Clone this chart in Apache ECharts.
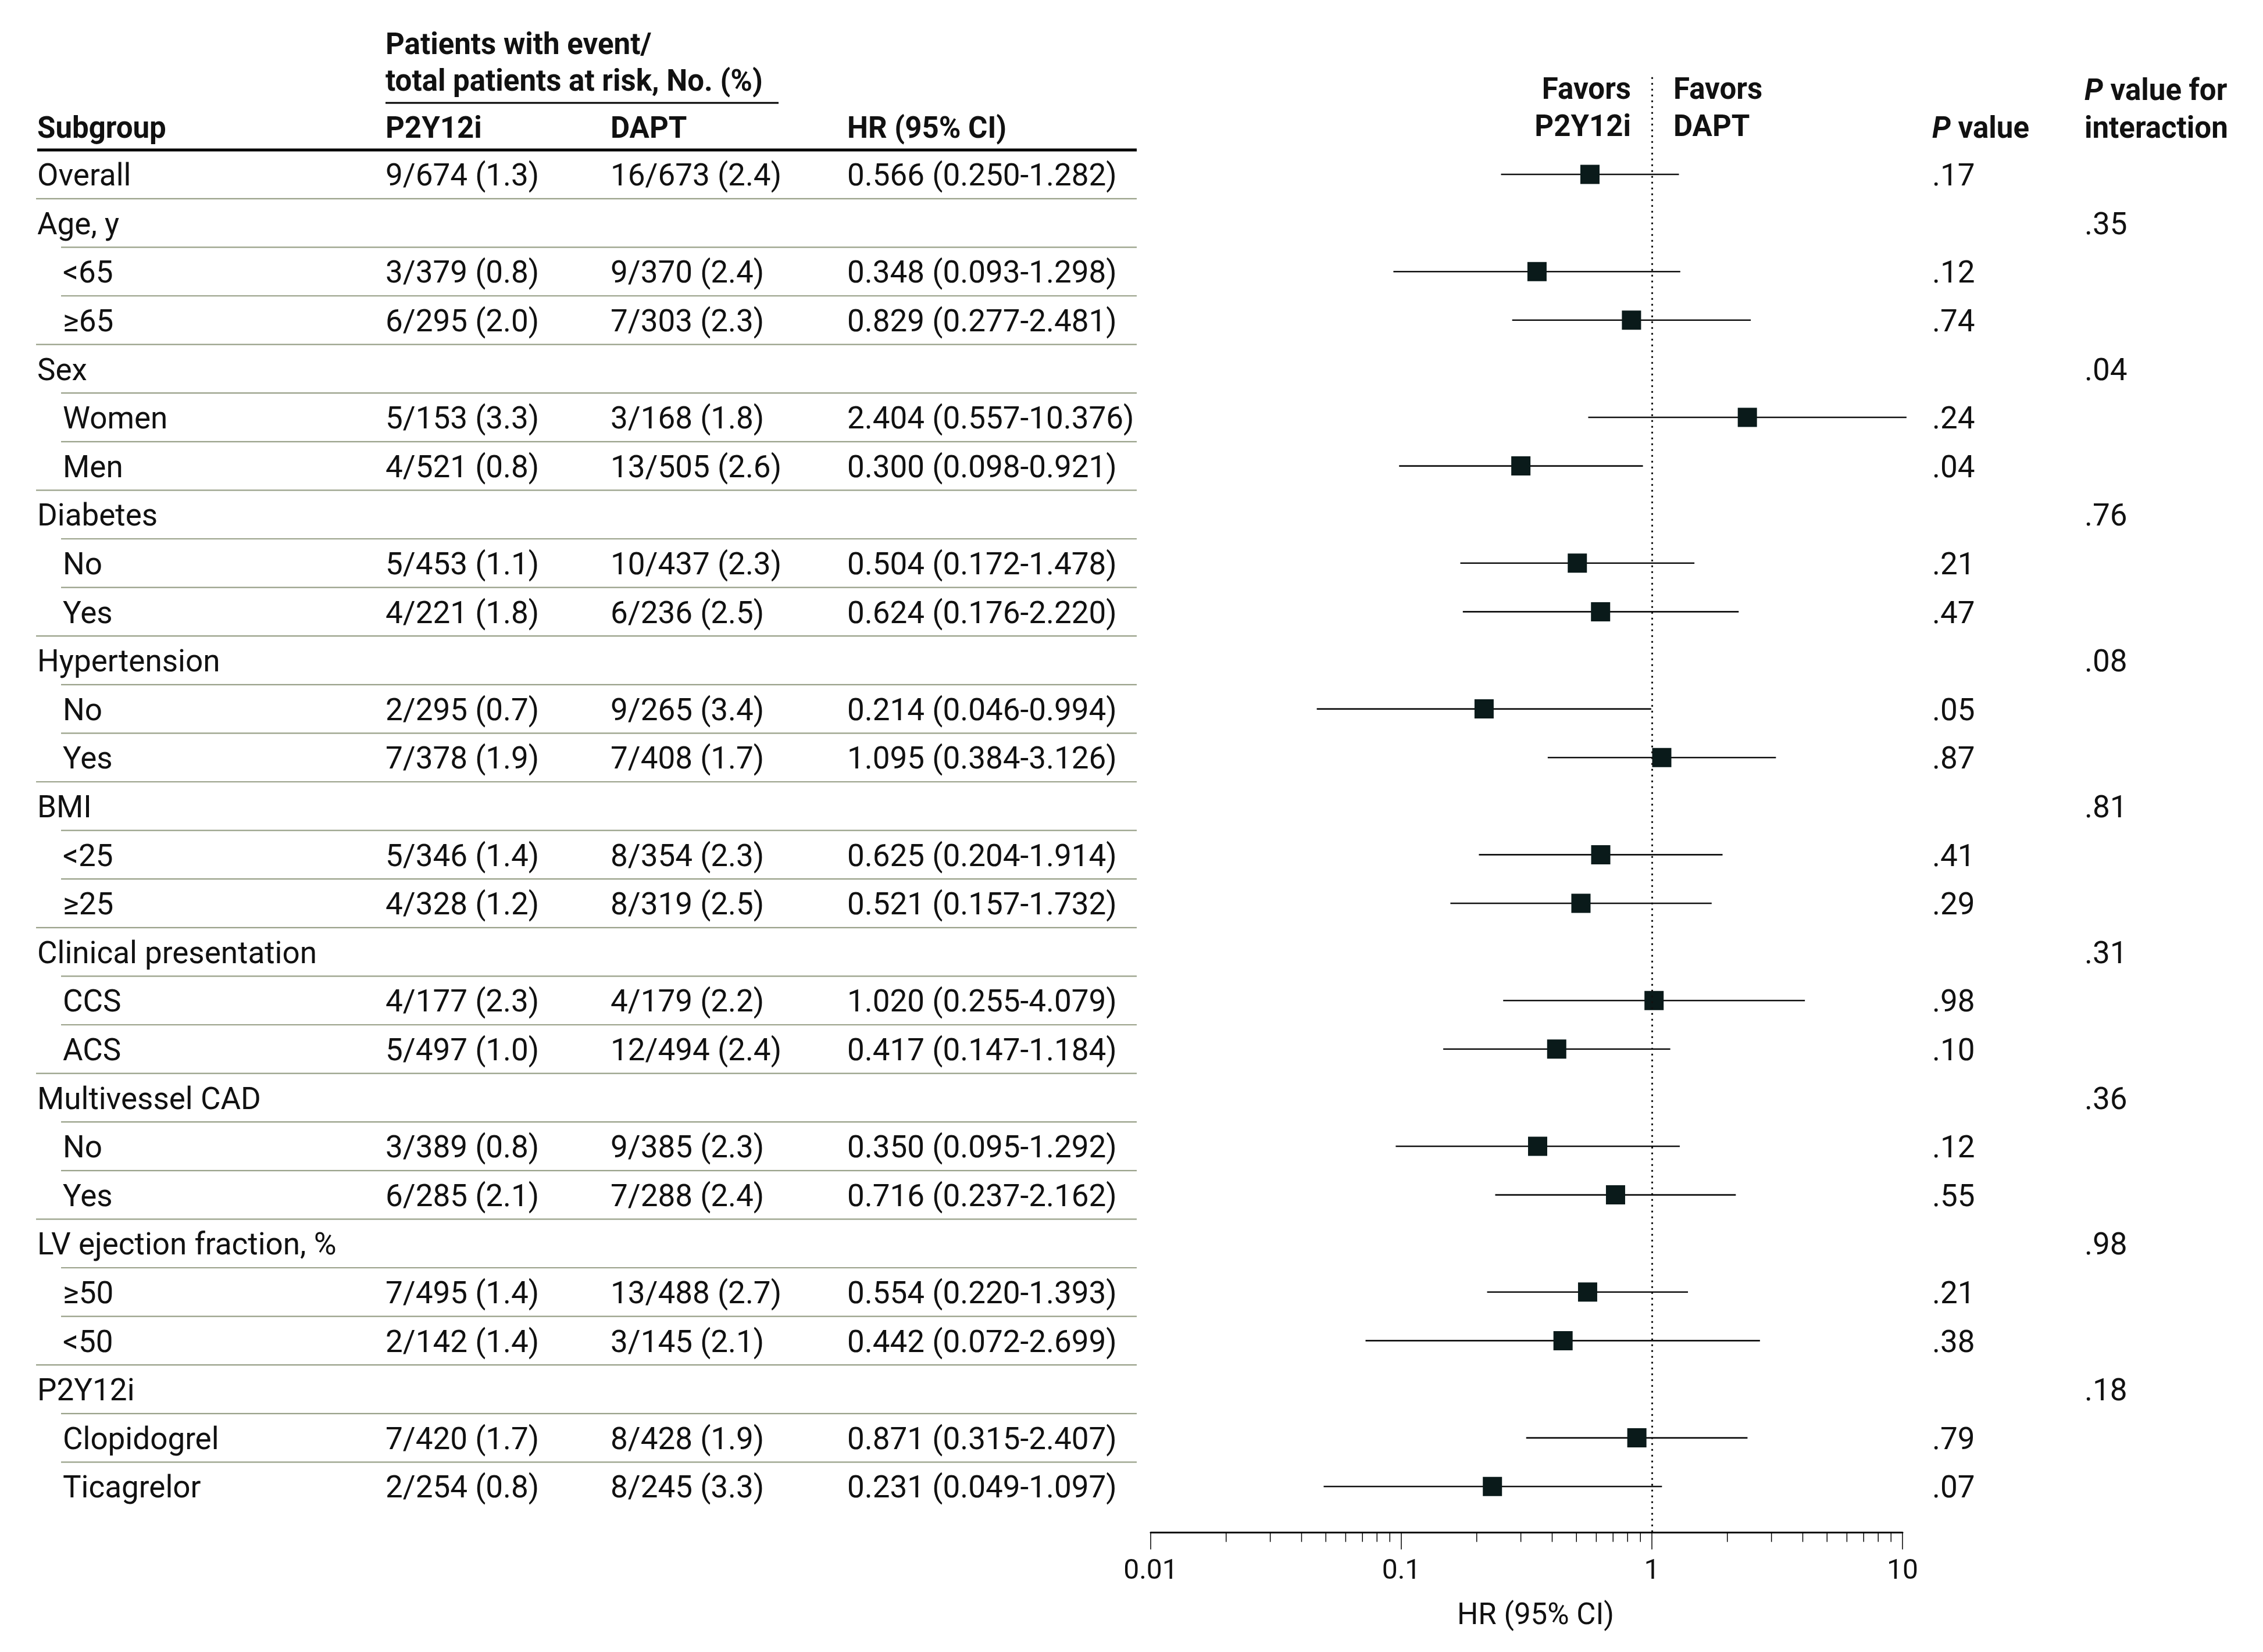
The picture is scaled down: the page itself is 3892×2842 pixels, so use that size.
<!DOCTYPE html>
<html><head><meta charset="utf-8">
<script src="https://cdn.jsdelivr.net/npm/echarts@6/dist/echarts.min.js"></script>
<style>html,body{margin:0;padding:0;background:#fff}#c{width:3892px;height:2842px}</style>
</head><body><div id="c"></div>
<script>
const subgroups = ['Overall','Age, y','<65','≥65','Sex','Women','Men','Diabetes','No','Yes','Hypertension','No','Yes','BMI','<25','≥25','Clinical presentation','CCS','ACS','Multivessel CAD','No','Yes','LV ejection fraction, %','≥50','<50','P2Y12i','Clopidogrel','Ticagrelor'];
const level = [0,0,1,1,0,1,1,0,1,1,0,1,1,0,1,1,0,1,1,0,1,1,0,1,1,0,1,1];
const p2y12iEvents = ['9/674 (1.3)','','3/379 (0.8)','6/295 (2.0)','','5/153 (3.3)','4/521 (0.8)','','5/453 (1.1)','4/221 (1.8)','','2/295 (0.7)','7/378 (1.9)','','5/346 (1.4)','4/328 (1.2)','','4/177 (2.3)','5/497 (1.0)','','3/389 (0.8)','6/285 (2.1)','','7/495 (1.4)','2/142 (1.4)','','7/420 (1.7)','2/254 (0.8)'];
const daptEvents = ['16/673 (2.4)','','9/370 (2.4)','7/303 (2.3)','','3/168 (1.8)','13/505 (2.6)','','10/437 (2.3)','6/236 (2.5)','','9/265 (3.4)','7/408 (1.7)','','8/354 (2.3)','8/319 (2.5)','','4/179 (2.2)','12/494 (2.4)','','9/385 (2.3)','7/288 (2.4)','','13/488 (2.7)','3/145 (2.1)','','8/428 (1.9)','8/245 (3.3)'];
const hr = [0.566,null,0.348,0.829,null,2.404,0.300,null,0.504,0.624,null,0.214,1.095,null,0.625,0.521,null,1.020,0.417,null,0.350,0.716,null,0.554,0.442,null,0.871,0.231];
const ciLow = [0.250,null,0.093,0.277,null,0.557,0.098,null,0.172,0.176,null,0.046,0.384,null,0.204,0.157,null,0.255,0.147,null,0.095,0.237,null,0.220,0.072,null,0.315,0.049];
const ciHigh = [1.282,null,1.298,2.481,null,10.376,0.921,null,1.478,2.220,null,0.994,3.126,null,1.914,1.732,null,4.079,1.184,null,1.292,2.162,null,1.393,2.699,null,2.407,1.097];
const pValue = ['.17','','.12','.74','','.24','.04','','.21','.47','','.05','.87','','.41','.29','','.98','.10','','.12','.55','','.21','.38','','.79','.07'];
const pInteraction = ['','.35','','','.04','','','.76','','','.08','','','.81','','','.31','','','.36','','','.98','','','.18','',''];
const xTickLabels = ['0.01','0.1','1','10'];
const minorTicks = [0.02,0.03,0.04,0.05,0.06,0.07,0.08,0.09,0.2,0.3,0.4,0.5,0.6,0.7,0.8,0.9,2,3,4,5,6,7,8,9];

const FF = 'Roboto';
const BODY = 53, HEAD = 51;
const COL = {sub:64, subIndent:108, p2:663, dapt:1050, hr:1457, p:3323, pint:3585};
const YMIN = -2, YMAX = 27.95;
const TXT = '#111';

function T(x, y, s, o) {
  o = o || {};
  const st = Object.assign({
    text: s, fill: TXT, fontFamily: FF, fontSize: BODY, fontWeight: 'normal',
    textAlign: 'left', align: 'left', textVerticalAlign: 'middle', verticalAlign: 'middle'
  }, o);
  if (o.textAlign) st.align = o.textAlign;
  return {type: 'text', x: x, y: y, style: st, silent: true};
}
const ital = {i: {fontStyle: 'italic', fontWeight: 'bold', fontFamily: FF, fontSize: HEAD, fill: TXT}};

const hrText = i => hr[i] == null ? '' : hr[i].toFixed(3) + ' (' + ciLow[i].toFixed(3) + '-' + ciHigh[i].toFixed(3) + ')';

const chart = echarts.init(document.getElementById('c'), null, {renderer: 'canvas'});
const forestData = [];
hr.forEach((v, i) => { if (v != null) forestData.push([v, i, ciLow[i], ciHigh[i]]); });

chart.setOption({
  backgroundColor: '#fff',
  animation: false,
  grid: {left: 1979, width: 1293, top: 300 - 2 * 83.6, height: 29.95 * 83.6, outerBoundsMode: 'none', containLabel: false},
  xAxis: {
    type: 'log', logBase: 10, min: 0.01, max: 10,
    splitLine: {show: false},
    axisLine: {show: true, onZero: false, lineStyle: {color: '#000', width: 3}},
    axisTick: {show: true, inside: false, length: 29, lineStyle: {color: '#000', width: 1.5}},
    minorTick: {show: false},
    axisLabel: {
      margin: 43, color: TXT, fontFamily: FF, fontSize: 48,
      formatter: v => xTickLabels[Math.round(Math.log10(v)) + 2]
    }
  },
  yAxis: {type: 'value', inverse: true, min: YMIN, max: YMAX, show: false, splitLine: {show: false}},
  graphic: {elements: [
    T(COL.p2, 80, 'Patients with event/', {fontWeight: 'bold', fontSize: HEAD}),
    T(COL.p2, 143, 'total patients at risk, No. (%)', {fontWeight: 'bold', fontSize: HEAD}),
    {type: 'line', shape: {x1: COL.p2, y1: 177, x2: 1339, y2: 177}, style: {stroke: '#000', lineWidth: 3}, silent: true},
    T(COL.sub, 224, 'Subgroup', {fontWeight: 'bold', fontSize: HEAD}),
    T(COL.p2, 224, 'P2Y12i', {fontWeight: 'bold', fontSize: HEAD}),
    T(COL.dapt, 224, 'DAPT', {fontWeight: 'bold', fontSize: HEAD}),
    T(COL.hr, 224, 'HR (95% CI)', {fontWeight: 'bold', fontSize: HEAD}),
    {type: 'line', shape: {x1: 64, y1: 258, x2: 1955, y2: 258}, style: {stroke: '#000', lineWidth: 5}, silent: true},
    T(2805, 157, 'Favors', {fontWeight: 'bold', fontSize: HEAD, textAlign: 'right'}),
    T(2805, 221, 'P2Y12i', {fontWeight: 'bold', fontSize: HEAD, textAlign: 'right'}),
    T(2878, 157, 'Favors', {fontWeight: 'bold', fontSize: HEAD}),
    T(2878, 221, 'DAPT', {fontWeight: 'bold', fontSize: HEAD}),
    T(COL.p, 224, '{i|P} value', {fontWeight: 'bold', fontSize: HEAD, rich: ital}),
    T(COL.pint, 159, '{i|P} value for', {fontWeight: 'bold', fontSize: HEAD, rich: ital}),
    T(COL.pint, 224, 'interaction', {fontWeight: 'bold', fontSize: HEAD}),
    T(2641, 2781, 'HR (95% CI)', {fontSize: 51, textAlign: 'center'})
  ]},
  series: [
    {
      type: 'custom', name: 'rows', silent: true, clip: false,
      data: subgroups.map((s, i) => [1, i]),
      encode: {x: 0, y: 1},
      renderItem: (params, api) => {
        const i = api.value(1);
        const y = api.coord([1, i])[1] + 6;
        const ch = [
          T(level[i] ? COL.subIndent : COL.sub, y, subgroups[i]),
          T(COL.p2, y, p2y12iEvents[i]),
          T(COL.dapt, y, daptEvents[i]),
          T(COL.hr, y, hrText(i)),
          T(COL.p, y, pValue[i]),
          T(COL.pint, y, pInteraction[i])
        ];
        return {type: 'group', children: ch};
      }
    },
    {
      type: 'custom', name: 'separators', silent: true, clip: false,
      data: subgroups.slice(0, -1).map((s, i) => [1, i]),
      encode: {x: 0, y: 1},
      renderItem: (params, api) => {
        const i = api.value(1);
        const y = api.coord([1, i + 0.5])[1];
        const x0 = level[i + 1] ? 105 : 62;
        return {type: 'line', shape: {x1: x0, y1: y, x2: 1955, y2: y}, style: {stroke: '#98a088', lineWidth: 2.2}};
      }
    },
    {
      type: 'custom', name: 'minorTicks', silent: true, clip: false,
      data: minorTicks.map(v => [v, YMAX]),
      encode: {x: 0, y: 1},
      renderItem: (params, api) => {
        const p = api.coord([api.value(0), YMAX]);
        return {type: 'line', shape: {x1: p[0], y1: p[1], x2: p[0], y2: p[1] + 16}, style: {stroke: '#000', lineWidth: 1.5}};
      }
    },
    {
      type: 'custom', name: 'forest', silent: true, clip: false,
      data: forestData,
      encode: {x: 0, y: 1},
      renderItem: (params, api) => {
        const i = api.value(1);
        const c = api.coord([api.value(0), i]);
        const l = api.coord([api.value(2), i]);
        const h = api.coord([api.value(3), i]);
        const s = 33;
        return {type: 'group', children: [
          {type: 'line', shape: {x1: l[0], y1: c[1], x2: h[0], y2: c[1]}, style: {stroke: '#111', lineWidth: 2.6}},
          {type: 'rect', shape: {x: c[0] - s / 2, y: c[1] - s / 2, width: s, height: s}, style: {fill: '#0a1a1a'}}
        ]};
      },
      markLine: {
        silent: true, symbol: ['none', 'none'], label: {show: false},
        lineStyle: {color: '#111', width: 3, type: [3, 7]},
        data: [{xAxis: 1}]
      }
    }
  ]
});
</script></body></html>
